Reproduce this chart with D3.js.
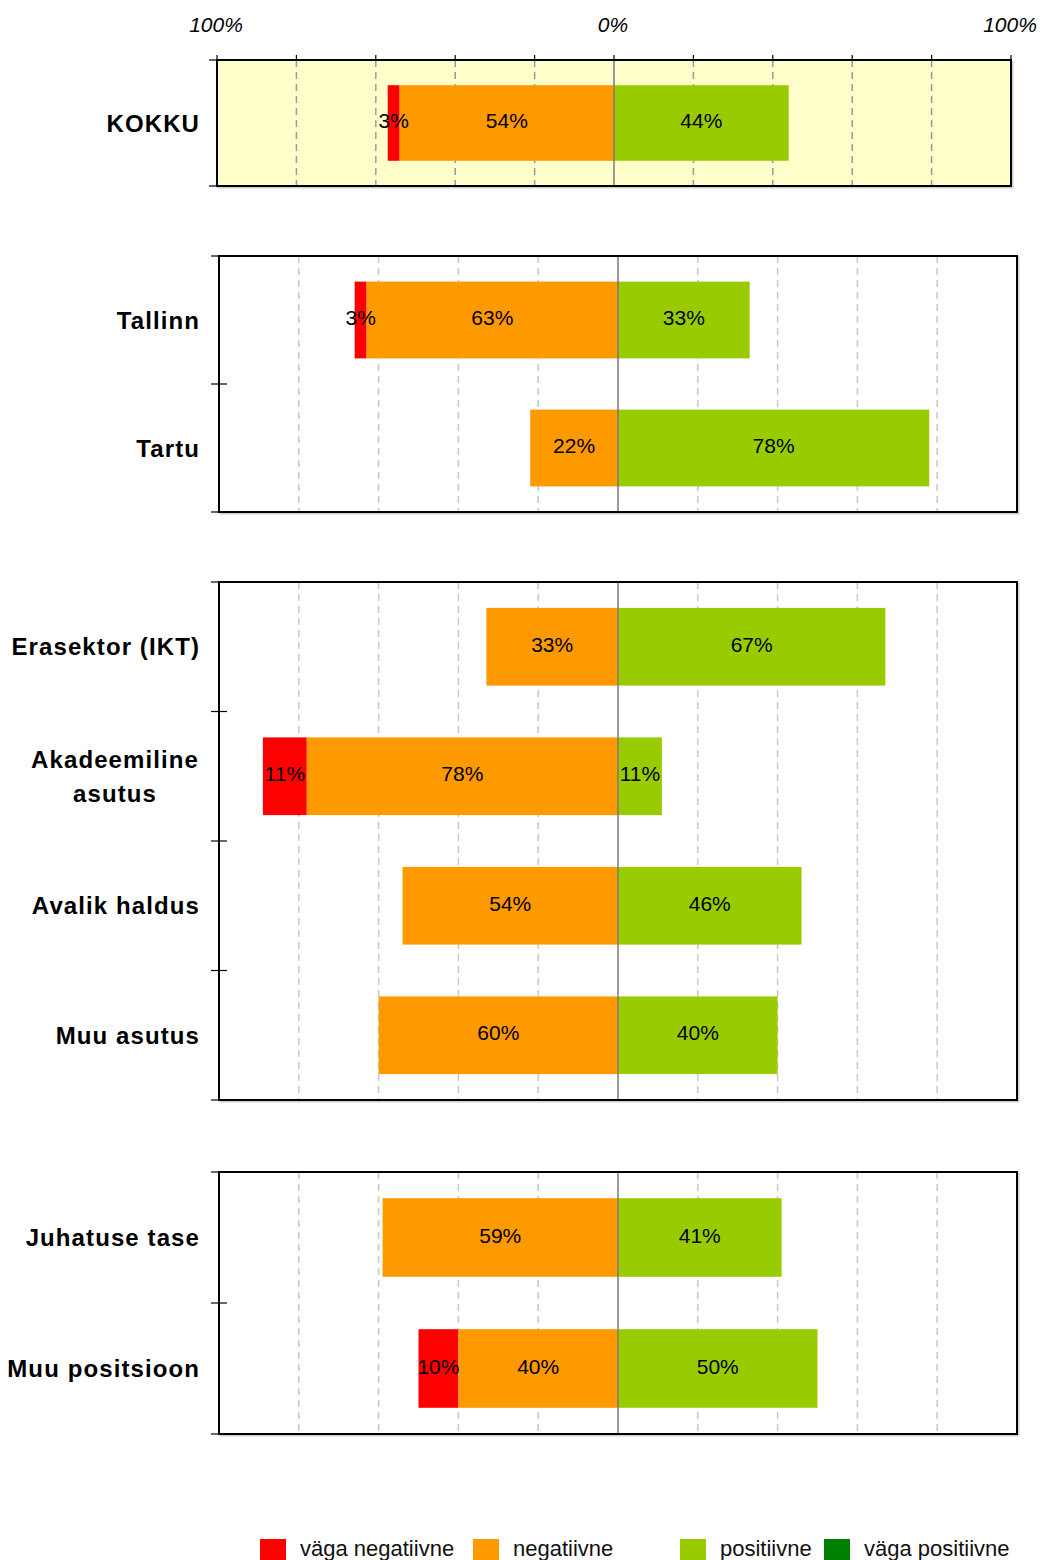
<!DOCTYPE html>
<html>
<head>
<meta charset="utf-8">
<script src="https://cdn.jsdelivr.net/npm/d3@7"></script>
<style>
  html, body { margin: 0; padding: 0; background: #fff; }
  svg { display: block; }
</style>
</head>
<body>
<svg id="chart" width="1042" height="1560"></svg>
<script>
// Hinnangud kategooriate kaupa (protsent vastajatest)
const categories = ["KOKKU", "Tallinn", "Tartu", "Erasektor (IKT)", "Akadeemiline\nasutus",
                    "Avalik haldus", "Muu asutus", "Juhatuse tase", "Muu positsioon"];
const categoryGroup = [0, 1, 1, 2, 2, 2, 2, 3, 3];
const vagaNegatiivne = [3, 3, 0, 0, 11, 0, 0, 0, 10];
const negatiivne     = [54, 63, 22, 33, 78, 54, 60, 59, 40];
const positiivne     = [44, 33, 78, 67, 11, 46, 40, 41, 50];
const vagaPositiivne = [0, 0, 0, 0, 0, 0, 0, 0, 0];
const seriesNames = ["väga negatiivne", "negatiivne", "positiivne", "väga positiivne"];
const seriesColors = ["#FF0000", "#FF9900", "#99CC00", "#008000"];
const axisTickValues = [-100, 0, 100];
const axisTickLabels = ["100%", "0%", "100%"];
const gridValues = [-80, -60, -40, -20, 20, 40, 60, 80];

// Paneelide paigutus
const panels = [
  { x0: 217, x1: 1011, y0: 60,  y1: 186,  bg: "#FFFFCC", grid: "#9a9a9a", topTicks: true },
  { x0: 219, x1: 1017, y0: 256, y1: 512,  bg: "#FFFFFF", grid: "#c8c8c8", topTicks: false },
  { x0: 219, x1: 1017, y0: 582, y1: 1100, bg: "#FFFFFF", grid: "#c8c8c8", topTicks: false },
  { x0: 219, x1: 1017, y0: 1172, y1: 1434, bg: "#FFFFFF", grid: "#c8c8c8", topTicks: false }
];

const svg = d3.select("#chart");
const labelFont = "'Liberation Sans', Arial, Helvetica, sans-serif";

panels.forEach((p, gi) => {
  const idx = categories.map((c, i) => i).filter(i => categoryGroup[i] === gi);
  const x = d3.scaleLinear().domain([-100, 100]).range([p.x0, p.x1]);
  const y = d3.scaleBand().domain(idx).range([p.y0, p.y1]).paddingInner(0.4).paddingOuter(0.2);
  const g = svg.append("g");

  // shadow + background
  g.append("rect").attr("x", p.x0 + 1.5).attr("y", p.y0 + 1.5)
    .attr("width", p.x1 - p.x0).attr("height", p.y1 - p.y0)
    .attr("fill", "none").attr("stroke", "#cfcfcf").attr("stroke-width", 2);
  g.append("rect").attr("x", p.x0).attr("y", p.y0)
    .attr("width", p.x1 - p.x0).attr("height", p.y1 - p.y0)
    .attr("fill", p.bg);

  // dashed gridlines
  g.selectAll("line.grid").data(gridValues).join("line")
    .attr("x1", d => x(d)).attr("x2", d => x(d))
    .attr("y1", p.y0).attr("y2", p.y1)
    .attr("stroke", p.grid).attr("stroke-width", 1.5)
    .attr("stroke-dasharray", "7,5");

  // stacked segments
  idx.forEach(i => {
    const vals = [vagaNegatiivne[i], negatiivne[i], positiivne[i], vagaPositiivne[i]];
    const negTotal = vals[0] + vals[1];
    const starts = [-negTotal, -vals[1], 0, vals[2]];
    vals.forEach((v, s) => {
      if (v <= 0) return;
      g.append("rect")
        .attr("x", x(starts[s])).attr("y", y(i))
        .attr("width", x(starts[s] + v) - x(starts[s]))
        .attr("height", y.bandwidth())
        .attr("fill", seriesColors[s]);
    });
    vals.forEach((v, s) => {
      if (v <= 0) return;
      g.append("text")
        .attr("x", (x(starts[s]) + x(starts[s] + v)) / 2)
        .attr("y", y(i) + y.bandwidth() / 2 + 5)
        .attr("text-anchor", "middle")
        .attr("font-family", labelFont).attr("font-size", 21)
        .attr("fill", "#000")
        .text(v + "%");
    });

    // category label
    const lines = categories[i].split("\n");
    const cy = y(i) + y.bandwidth() / 2;
    const t = g.append("text")
      .attr("font-family", labelFont).attr("font-size", 24)
      .attr("font-weight", "bold").attr("letter-spacing", "1.1px")
      .attr("fill", "#000");
    if (lines.length === 1) {
      t.attr("x", 200).attr("y", cy + 8.5).attr("text-anchor", "end").text(lines[0]);
    } else {
      t.attr("text-anchor", "middle");
      lines.forEach((ln, k) => {
        t.append("tspan").attr("y", cy + 8.5 + (k - (lines.length - 1) / 2) * 34).text(ln);
      });
      const w = d3.max(t.selectAll("tspan").nodes(), n => n.getComputedTextLength());
      t.selectAll("tspan").attr("x", 199 - w / 2);
    }
  });

  // zero line
  g.append("line").attr("x1", x(0)).attr("x2", x(0))
    .attr("y1", p.y0).attr("y2", p.y1)
    .attr("stroke", "#7a7a7a").attr("stroke-width", 1.5);

  // frame
  g.append("rect").attr("x", p.x0).attr("y", p.y0)
    .attr("width", p.x1 - p.x0).attr("height", p.y1 - p.y0)
    .attr("fill", "none").attr("stroke", "#000").attr("stroke-width", 2);

  // left ticks at category boundaries
  const bounds = [p.y0].concat(idx.slice(1).map(i => y(i) - y.step() * y.paddingInner() / 2)).concat([p.y1]);
  bounds.forEach((b, k) => {
    const inner = k > 0 && k < bounds.length - 1;
    g.append("line").attr("x1", p.x0 - 8).attr("x2", inner ? p.x0 + 8 : p.x0)
      .attr("y1", b).attr("y2", b)
      .attr("stroke", "#000").attr("stroke-width", 1.2);
  });

  // top tick marks
  if (p.topTicks) {
    const tv = d3.range(-100, 101, 20);
    g.selectAll("line.tt").data(tv).join("line")
      .attr("x1", d => x(d)).attr("x2", d => x(d))
      .attr("y1", p.y0 - 5).attr("y2", p.y0)
      .attr("stroke", "#000").attr("stroke-width", 1.2);
    axisTickValues.forEach((v, k) => {
      svg.append("text")
        .attr("x", x(v) - 1).attr("y", 32)
        .attr("text-anchor", "middle")
        .attr("font-family", labelFont).attr("font-size", 21)
        .attr("font-style", "italic").attr("fill", "#000")
        .text(axisTickLabels[k]);
    });
  }
});

// legend
const legendX = [260, 473, 680, 824];
const lg = svg.append("g");
seriesNames.forEach((name, s) => {
  lg.append("rect").attr("x", legendX[s]).attr("y", 1539)
    .attr("width", 26).attr("height", 26).attr("fill", seriesColors[s]);
  lg.append("text").attr("x", legendX[s] + 40).attr("y", 1556)
    .attr("font-family", labelFont).attr("font-size", 22)
    .attr("fill", "#111").text(name);
});
</script>
</body>
</html>
